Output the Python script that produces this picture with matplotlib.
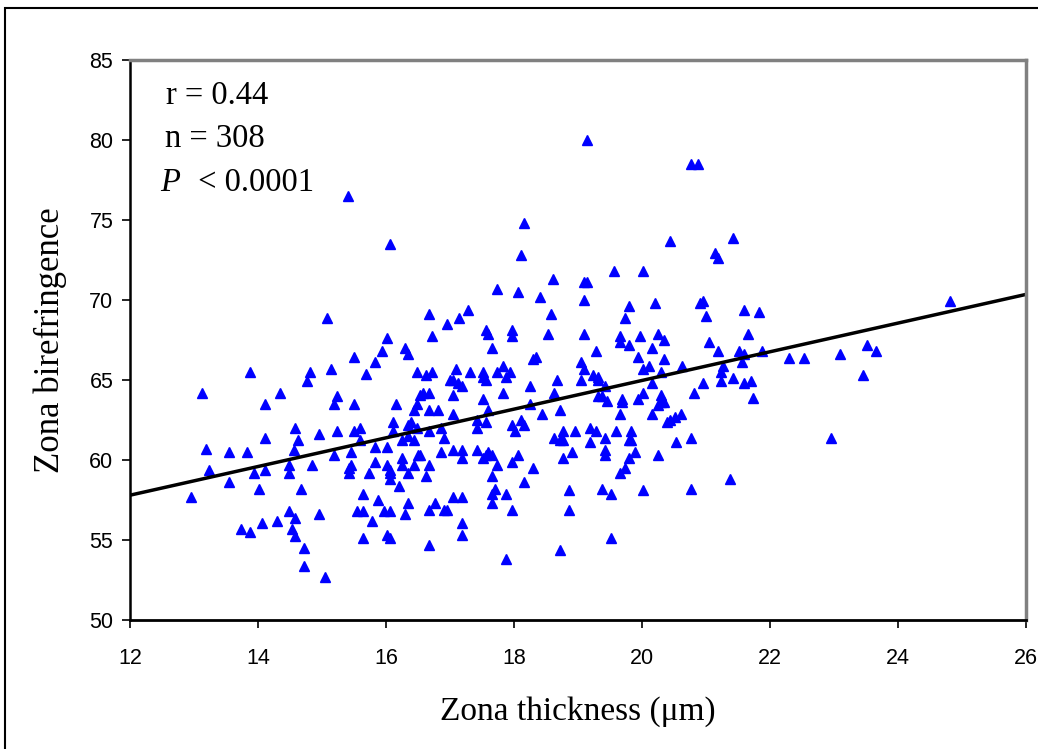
import matplotlib.pyplot as plt
from matplotlib.patches import Rectangle

# zona thickness (um) / birefringence
thickness = [
    13.13, 13.18, 13.875, 14.11, 14.34, 14.11, 14.58, 14.63, 14.57, 14.76, 14.81, 14.95,
    15.08, 15.14, 15.23, 15.18, 15.23, 15.5, 15.5, 15.5, 15.6, 15.6, 15.69, 15.83,
    15.93, 16.02, 15.83, 16.02, 16.16, 16.11, 16.11, 16.3, 16.34, 16.48, 16.48, 16.44,
    16.34, 16.39, 16.25, 16.34, 16.44, 16.48, 16.53,
    13.55, 13.83, 13.23, 12.95, 13.55, 13.93, 14.11, 14.02, 14.48, 14.48, 14.67, 14.85,
    15.18, 15.46, 15.42, 15.46, 15.42, 15.74, 15.83, 16.02, 16.07, 16.07, 16.07, 16.25,
    16.25, 16.44, 16.34, 16.21, 16.5, 15.64, 15.88, 16.34, 16.3, 15.55, 15.64, 15.78,
    15.97, 16.07, 15.64, 16.02, 16.07, 14.48, 14.58, 14.95, 14.3, 14.07, 13.74, 13.88,
    14.53, 14.58, 14.72, 14.72, 15.04,
    18.11, 19.56, 20.02, 18.61, 19.09, 19.14, 17.74, 18.06, 18.4, 19.09, 19.79, 20.2,
    20.9, 17.28, 17.14, 16.67, 16.95, 18.58, 19.74, 17.56, 17.6, 17.97, 17.97, 18.53,
    19.09, 16.72, 19.65, 19.65, 19.97, 20.25, 20.35, 19.79, 20.16, 17.65, 19.28, 18.3,
    18.35, 19.93, 20.35, 19.04, 19.09, 20.02, 20.11, 20.3, 20.63, 16.63, 16.72, 17.09,
    17.0, 17.04, 17.13, 17.18, 17.32, 17.51, 17.51, 17.56, 17.74, 17.83, 17.93, 17.88,
    18.25, 18.67, 19.04, 19.23, 19.32, 19.32, 19.42, 20.16, 16.58, 16.67, 17.04, 17.51,
    17.83, 18.62, 19.32, 19.37, 19.46, 19.69, 19.69, 19.93, 20.02, 20.3, 20.3, 20.35,
    20.25, 20.81, 16.67, 16.81, 17.04, 17.6, 18.25, 18.44, 18.72, 19.65, 20.16, 20.52,
    20.61, 20.44, 20.39, 16.67, 16.86, 16.9, 17.42, 17.42, 17.56, 17.97, 18.02, 18.16,
    18.11, 18.62, 18.77, 18.77, 18.72, 18.95, 19.19, 19.28, 19.42, 19.6, 19.83, 19.79,
    19.83, 20.53, 20.77, 19.19,
    16.53, 16.67, 16.63, 16.86, 17.04, 17.18, 17.18, 17.42, 17.51, 17.56, 17.6, 17.65,
    17.74, 17.97, 18.06, 18.3, 17.65, 18.16, 17.7, 17.65, 17.88, 17.65, 17.97, 18.77,
    18.91, 18.86, 18.86, 19.42, 19.42, 19.79, 19.89, 19.74, 19.65, 19.37, 19.51, 20.02,
    20.25, 20.77, 16.77, 16.67, 16.9, 16.95, 17.04, 17.18, 17.18, 17.18, 16.67, 17.88,
    18.72, 19.51,
    19.14, 20.77, 20.88, 18.16, 20.44, 15.41, 16.06,
    21.42, 21.14, 21.18, 20.95, 21.0, 21.6, 21.83, 24.81,
    21.65, 21.05, 21.18, 21.51, 21.6, 21.88, 22.3, 22.53, 23.09, 23.51, 23.65, 23.46,
    21.27, 21.23, 21.56, 21.23, 21.42, 21.6, 21.7, 20.95, 21.74, 22.95, 21.37,
]
birefringence = [
    64.2, 60.7, 65.5, 63.5, 64.2, 61.4, 62.0, 61.25, 60.6, 64.96, 65.5, 61.6,
    68.86, 65.7, 64.0, 63.5, 61.8, 66.46, 63.5, 61.8, 62.0, 61.25, 65.36, 66.1,
    66.8, 67.6, 60.8, 60.8, 63.5, 62.4, 61.8, 67.0, 66.6, 65.5, 63.5, 63.1,
    62.2, 62.4, 61.25, 61.5, 61.25, 62.0, 64.05,
    60.5, 60.5, 59.4, 57.7, 58.6, 59.2, 59.4, 58.2, 59.7, 59.2, 58.2, 59.7,
    60.3, 60.5, 59.5, 59.7, 59.2, 59.2, 59.9, 59.7, 59.4, 59.2, 58.8, 60.1,
    59.7, 59.7, 59.2, 58.4, 60.3, 57.9, 57.5, 57.3, 56.6, 56.8, 56.8, 56.2,
    56.8, 56.8, 55.1, 55.3, 55.1, 56.8, 56.4, 56.6, 56.2, 56.05, 55.7, 55.5,
    55.7, 55.25, 54.5, 53.4, 52.7,
    72.8, 71.8, 71.8, 71.3, 71.1, 71.1, 70.7, 70.5, 70.2, 70.0, 69.6, 69.8,
    69.8, 69.4, 68.9, 69.1, 68.5, 69.1, 68.9, 68.1, 67.9, 68.1, 67.75, 67.9,
    67.9, 67.75, 67.75, 67.4, 67.75, 67.9, 67.5, 67.2, 67.0, 67.0, 66.8, 66.3,
    66.46, 66.46, 66.3, 66.1, 65.7, 65.7, 65.9, 65.5, 65.9, 65.3, 65.5, 65.7,
    65.0, 65.0, 64.8, 64.6, 65.5, 65.5, 65.2, 65.0, 65.5, 65.9, 65.5, 65.2,
    64.6, 65.0, 65.0, 65.3, 65.2, 65.0, 64.6, 64.8, 64.2, 64.2, 64.05, 63.8,
    64.2, 64.2, 64.0, 64.0, 63.7, 63.8, 63.65, 63.8, 64.2, 64.05, 63.6, 63.6,
    63.45, 64.2, 63.1, 63.1, 62.9, 63.1, 63.5, 62.9, 63.1, 62.9, 62.9, 62.7,
    62.9, 62.5, 62.4, 61.8, 62.0, 61.4, 62.5, 62.0, 62.4, 62.2, 61.8, 62.2,
    62.5, 61.4, 61.8, 61.25, 61.25, 61.8, 62.0, 61.8, 61.4, 61.8, 61.8, 61.25,
    61.25, 61.1, 61.4, 61.1,
    60.3, 59.7, 59.0, 60.5, 60.6, 60.1, 60.6, 60.6, 60.1, 60.3, 60.5, 60.3,
    59.7, 59.9, 60.3, 59.5, 59.0, 58.6, 58.2, 57.9, 57.9, 57.3, 56.9, 60.1,
    60.5, 58.1, 56.9, 60.6, 60.3, 60.1, 60.5, 59.5, 59.2, 58.2, 57.9, 58.1,
    60.3, 58.2, 57.3, 56.9, 56.9, 56.9, 57.7, 57.7, 56.05, 55.3, 54.7, 53.8,
    54.4, 55.1,
    80.0, 78.5, 78.5, 74.8, 73.7, 76.5, 73.5,
    73.9, 72.95, 72.6, 69.95, 69.0, 69.4, 69.25, 69.95,
    67.9, 67.4, 66.8, 66.8, 66.6, 66.8, 66.4, 66.4, 66.6, 67.2, 66.8, 65.3,
    65.9, 65.5, 66.1, 64.96, 65.15, 64.8, 64.96, 64.8, 63.9, 61.4, 58.8,
]

# least-squares line as drawn in the original
fit_x = [12, 26]
fit_y = [57.8, 70.35]

W, H = 1038, 749
fig = plt.figure(figsize=(W / 100, H / 100), dpi=100, facecolor='white')
ax = fig.add_axes([130 / W, 1 - 620 / H, (1026 - 130) / W, (620 - 60) / H])

ax.plot(thickness, birefringence, linestyle='none', marker='^', markersize=7,
        color='#0000ff', markeredgecolor='#0000ff')
ax.plot(fit_x, fit_y, color='black', linewidth=2.5)

ax.set_xlim(12, 26)
ax.set_ylim(50, 85)
ax.set_xticks(range(12, 27, 2))
ax.set_yticks(range(50, 86, 5))

tick_font = ['Liberation Sans Narrow', 'Liberation Sans', 'DejaVu Sans']
for lab in ax.get_xticklabels() + ax.get_yticklabels():
    lab.set_family(tick_font)
    lab.set_fontsize(15.5)
ax.tick_params(direction='out', length=6, width=1.2, color='black', pad=6)
ax.tick_params(axis='x', pad=14)

for side in ['top', 'right']:
    ax.spines[side].set_color('#808080')
    ax.spines[side].set_linewidth(2.5)
ax.spines['left'].set_color('black')
ax.spines['left'].set_linewidth(1.8)
ax.spines['bottom'].set_color('black')
ax.spines['bottom'].set_linewidth(2.0)

serif = ['Liberation Serif', 'DejaVu Serif']
ax.set_xlabel('Zona thickness (\u03bcm)', family=serif, fontsize=24, labelpad=20)
ax.set_ylabel('Zona birefringence', family=serif, fontsize=25, labelpad=16)

ax.text(12.56, 82.75, 'r = 0.44', family=serif, fontsize=23.5, va='center')
ax.text(12.55, 80.05, 'n = 308', family=serif, fontsize=23.5, va='center')
ax.text(12.47, 77.3, 'P', family=serif, fontsize=23.5, style='italic', va='center')
ax.text(12.93, 77.3, ' < 0.0001', family=serif, fontsize=23.5, va='center')

# outer frame round the whole picture
fig.patches.append(Rectangle((5 / W, -0.05), 1.05, 1 - 8 / H + 0.05,
                             transform=fig.transFigure, fill=False,
                             edgecolor='black', linewidth=1.5))

fig.savefig('out.png', dpi=100, facecolor='white')
